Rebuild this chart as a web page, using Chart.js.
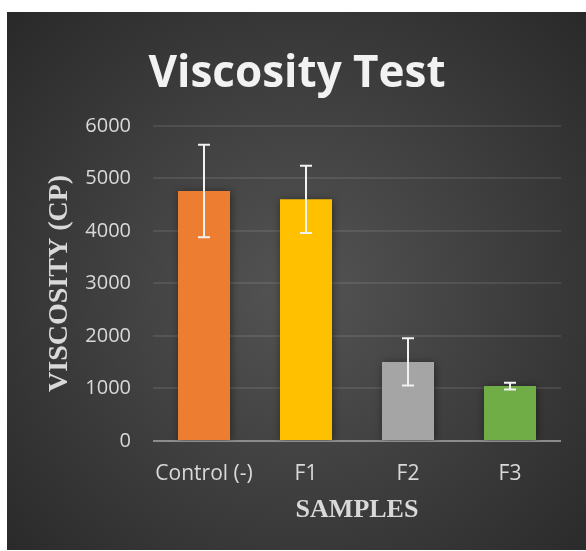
<!DOCTYPE html>
<html>
<head>
<meta charset="utf-8">
<title>Viscosity Test</title>
<script src="https://cdn.jsdelivr.net/npm/chart.js@4.4.1/dist/chart.umd.min.js"></script>
<style>
    html, body { margin: 0; padding: 0; background: #ffffff; }
    #wrap { width: 586px; height: 551px; }
</style>
</head>
<body>
<div id="wrap"><canvas id="chart" width="586" height="551"></canvas></div>
<script>
// Datos
const categories = ["Control (-)", "F1", "F2", "F3"];
const viscosity = [4760, 4600, 1505, 1045];
const errors = [880, 640, 450, 65];
const barColors = ["#ED7D31", "#FFC000", "#A5A5A5", "#70AD47"];
const yTicks = [0, 1000, 2000, 3000, 4000, 5000, 6000];

// Fondo oscuro con degradado radial
const panelPlugin = {
    id: "panel",
    beforeDraw(chart) {
        const ctx = chart.ctx;
        const g = ctx.createRadialGradient(300, 290, 0, 300, 290, 430);
        g.addColorStop(0, "#545454");
        g.addColorStop(1, "#262626");
        ctx.save();
        ctx.fillStyle = g;
        ctx.fillRect(7, 12, 579, 538);
        ctx.restore();
    }
};

// Sombra de las barras
const shadowPlugin = {
    id: "barShadow",
    beforeDatasetsDraw(chart) {
        const ctx = chart.ctx;
        ctx.save();
        ctx.shadowColor = "rgba(0,0,0,0.45)";
        ctx.shadowBlur = 8;
        ctx.shadowOffsetX = 1;
        ctx.shadowOffsetY = 1;
    },
    afterDatasetsDraw(chart) {
        chart.ctx.restore();
    }
};

// Barras de error
const errorBarPlugin = {
    id: "errorBars",
    afterDatasetsDraw(chart) {
        const ctx = chart.ctx;
        const y = chart.scales.y;
        const meta = chart.getDatasetMeta(0);
        ctx.save();
        ctx.strokeStyle = "#f2f2f2";
        ctx.lineWidth = 2;
        meta.data.forEach((bar, i) => {
            const top = y.getPixelForValue(viscosity[i] + errors[i]);
            const bottom = y.getPixelForValue(viscosity[i] - errors[i]);
            ctx.beginPath();
            ctx.moveTo(bar.x, top);
            ctx.lineTo(bar.x, bottom);
            ctx.moveTo(bar.x - 6, top);
            ctx.lineTo(bar.x + 6, top);
            ctx.moveTo(bar.x - 6, bottom);
            ctx.lineTo(bar.x + 6, bottom);
            ctx.stroke();
        });
        ctx.restore();
    }
};

const ctx = document.getElementById("chart").getContext("2d");
window.myChart = new Chart(ctx, {
    type: "bar",
    data: {
        labels: categories,
        datasets: [{
            label: "Viscosity",
            data: viscosity,
            backgroundColor: barColors,
            borderWidth: 0,
            barPercentage: 0.51,
            categoryPercentage: 1
        }]
    },
    options: {
        responsive: false,
        animation: false,
        layout: {
            padding: { left: 33, right: 25, top: 12, bottom: 0 }
        },
        plugins: {
            legend: { display: false },
            tooltip: { enabled: false },
            title: {
                display: true,
                text: "Viscosity Test",
                color: "#f2f2f2",
                font: { family: "Open Sans", size: 44, weight: "bold", lineHeight: 1.2 },
                padding: { top: 36, bottom: 25 }
            }
        },
        scales: {
            x: {
                grid: { display: false, drawTicks: false },
                border: { display: false },
                ticks: {
                    color: "#d9d9d9",
                    padding: 20,
                    autoSkip: false,
                    maxRotation: 0,
                    minRotation: 0,
                    font: { family: "Open Sans", size: 21 }
                },
                title: {
                    display: true,
                    text: "SAMPLES",
                    color: "#d9d9d9",
                    font: { family: "Liberation Serif", size: 26, weight: "bold", lineHeight: 1.2 },
                    padding: { top: 0, bottom: 25 }
                },
                afterFit(scale) { scale.height = 110; }
            },
            y: {
                min: 0,
                max: 6000,
                afterBuildTicks(scale) {
                    scale.ticks = yTicks.map(v => ({ value: v }));
                },
                grid: {
                    drawTicks: false,
                    lineWidth: 2,
                    color: c => c.tick && c.tick.value === 0 ? "#8c8c8c" : "rgba(255,255,255,0.09)"
                },
                border: { display: false },
                ticks: {
                    color: "#d9d9d9",
                    padding: 22,
                    font: { family: "Open Sans", size: 20 },
                    callback: v => String(v)
                },
                title: {
                    display: true,
                    text: "VISCOSITY (CP)",
                    color: "#d9d9d9",
                    font: { family: "Liberation Serif", size: 28, weight: "bold", lineHeight: 1.2 },
                    padding: { top: 10, bottom: 0 }
                },
                afterFit(scale) { scale.width = 120; }
            }
        }
    },
    plugins: [panelPlugin, shadowPlugin, errorBarPlugin]
});
</script>
</body>
</html>
